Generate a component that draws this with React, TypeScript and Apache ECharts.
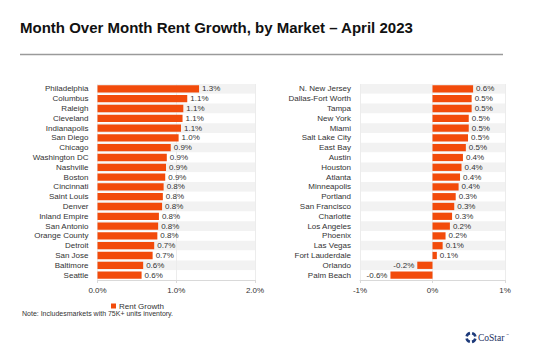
import React, { useEffect, useRef } from "react";
import * as echarts from "echarts";

const leftMarkets = [
  "Philadelphia", "Columbus", "Raleigh", "Cleveland", "Indianapolis", "San Diego",
  "Chicago", "Washington DC", "Nashville", "Boston", "Cincinnati", "Saint Louis",
  "Denver", "Inland Empire", "San Antonio", "Orange County", "Detroit", "San Jose",
  "Baltimore", "Seattle",
];
const leftValues = [
  1.29, 1.14, 1.09, 1.08, 1.06, 1.03, 0.93, 0.88, 0.87, 0.86, 0.84, 0.83,
  0.82, 0.78, 0.77, 0.76, 0.72, 0.7, 0.58, 0.56,
];
const rightMarkets = [
  "N. New Jersey", "Dallas-Fort Worth", "Tampa", "New York", "Miami", "Salt Lake City",
  "East Bay", "Austin", "Houston", "Atlanta", "Minneapolis", "Portland",
  "San Francisco", "Charlotte", "Los Angeles", "Phoenix", "Las Vegas",
  "Fort Lauderdale", "Orlando", "Palm Beach",
];
const rightValues = [
  0.56, 0.54, 0.54, 0.5, 0.5, 0.49, 0.46, 0.42, 0.4, 0.38, 0.36, 0.32,
  0.3, 0.27, 0.24, 0.18, 0.14, 0.06, -0.21, -0.58,
];
const leftTicks = [0, 1, 2];
const rightTicks = [-1, 0, 1];

const TITLE = "Month Over Month Rent Growth, by Market \u2013 April 2023";
const NOTE = "Note: Includesmarkets with 75K+ units inventory.";
const SERIES_NAME = "Rent Growth";

const BAR = "#f24b0b";
const TEXT = "#333333";
const FONT = "Liberation Sans, Arial, sans-serif";

export default function App() {
  const ref = useRef<HTMLDivElement>(null);
  useEffect(() => {
    document.body.style.margin = "0";
    const chart = echarts.init(ref.current!, null, { renderer: "svg" });

    const xAxisCommon = (min: number, max: number, fmt: (v: number) => string) => ({
      type: "value",
      min,
      max,
      interval: 1,
      axisLine: { show: true, lineStyle: { color: "#d9d9d9", width: 1 } },
      axisTick: { show: true, length: 3, lineStyle: { color: "#d9d9d9" } },
      splitLine: { show: true, lineStyle: { color: "#ececec", width: 1 } },
      axisLabel: {
        formatter: fmt,
        fontSize: 8,
        color: TEXT,
        fontFamily: FONT,
        margin: 6,
      },
    });
    const yAxisCommon = (data: string[]) => ({
      type: "category",
      data,
      inverse: true,
      axisLine: { show: false },
      axisTick: { show: false, interval: 0 },
      splitLine: { show: false, interval: 0 },
      splitArea: { show: true, interval: 0, areaStyle: { color: ["#f2f2f2", "#ffffff"] } },
      axisLabel: { interval: 0, fontSize: 8, color: TEXT, fontFamily: FONT, margin: 9 },
    });
    const labelCommon = {
      show: true,
      position: "right",
      distance: 3,
      fontSize: 8,
      color: TEXT,
      fontFamily: FONT,
      formatter: (p: any) => p.value.toFixed(1) + "%",
    };

    chart.setOption({
      animation: false,
      backgroundColor: "#ffffff",
      textStyle: { fontFamily: FONT },
      grid: [
        { left: 97.5, top: 84, width: 157.5, height: 196, containLabel: false },
        { left: 360, top: 84, width: 145, height: 196, containLabel: false },
      ],
      xAxis: [
        {
          ...xAxisCommon(leftTicks[0], leftTicks[leftTicks.length - 1], (v: number) => v.toFixed(1) + "%"),
          gridIndex: 0,
        },
        {
          ...xAxisCommon(rightTicks[0], rightTicks[rightTicks.length - 1], (v: number) => v + "%"),
          gridIndex: 1,
        },
      ],
      yAxis: [
        { ...yAxisCommon(leftMarkets), gridIndex: 0 },
        { ...yAxisCommon(rightMarkets), gridIndex: 1 },
      ],
      legend: {
        data: [SERIES_NAME],
        left: 106,
        top: 297,
        itemWidth: 5,
        itemHeight: 5,
        itemGap: 4,
        icon: "rect",
        textStyle: { fontSize: 8, color: TEXT, fontFamily: FONT, padding: [0, 0, 0, -2] },
      },
      series: [
        {
          name: SERIES_NAME,
          type: "bar",
          xAxisIndex: 0,
          yAxisIndex: 0,
          data: leftValues,
          barWidth: "74%",
          itemStyle: { color: BAR },
          label: labelCommon,
        },
        {
          name: SERIES_NAME,
          type: "bar",
          xAxisIndex: 1,
          yAxisIndex: 1,
          data: rightValues.map((v) =>
            v < 0 ? { value: v, label: { position: "left" } } : { value: v }
          ),
          barWidth: "74%",
          itemStyle: { color: BAR },
          label: labelCommon,
        },
      ],
      graphic: [
        {
          type: "text",
          left: 20,
          top: 19.5,
          style: {
            text: TITLE,
            fontSize: 15,
            fontWeight: "bold",
            fill: "#111111",
            fontFamily: FONT,
          },
        },
        {
          type: "line",
          shape: { x1: 20, y1: 54.5, x2: 503, y2: 54.5 },
          style: { stroke: "#9a9a9a", lineWidth: 1.5 },
        },
        {
          type: "text",
          x: 22,
          y: 313,
          style: {
            text: NOTE,
            fontSize: 7,
            fill: TEXT,
            fontFamily: FONT,
            verticalAlign: "middle",
          },
        },
        {
          type: "group",
          children: [
            { type: "arc", shape: { cx: 471, cy: 337.5, r: 4.5, startAngle: 0.25, endAngle: 1.35 }, style: { stroke: "#1d3a7a", lineWidth: 2.6, fill: null } },
            { type: "arc", shape: { cx: 471, cy: 337.5, r: 4.5, startAngle: 1.82, endAngle: 2.92 }, style: { stroke: "#1d3a7a", lineWidth: 2.6, fill: null } },
            { type: "arc", shape: { cx: 471, cy: 337.5, r: 4.5, startAngle: 3.39, endAngle: 4.49 }, style: { stroke: "#1d3a7a", lineWidth: 2.6, fill: null } },
            { type: "arc", shape: { cx: 471, cy: 337.5, r: 4.5, startAngle: 4.96, endAngle: 6.06 }, style: { stroke: "#1d3a7a", lineWidth: 2.6, fill: null } },
            {
              type: "text",
              x: 478,
              y: 337.5,
              style: {
                text: "CoStar",
                fontSize: 9.5,
                fill: "#1b2f5e",
                fontFamily: "Liberation Serif, DejaVu Serif, serif",
                verticalAlign: "middle",
              },
            },
            {
              type: "text",
              x: 506,
              y: 335,
              style: { text: "\u2122", fontSize: 3, fill: "#1b2f5e", verticalAlign: "middle" },
            },
          ],
        },
      ],
    });
    return () => chart.dispose();
  }, []);
  return (
    <div
      ref={ref}
      style={{ position: "fixed", left: 0, top: 0, width: 535, height: 357, background: "#fff" }}
    />
  );
}
